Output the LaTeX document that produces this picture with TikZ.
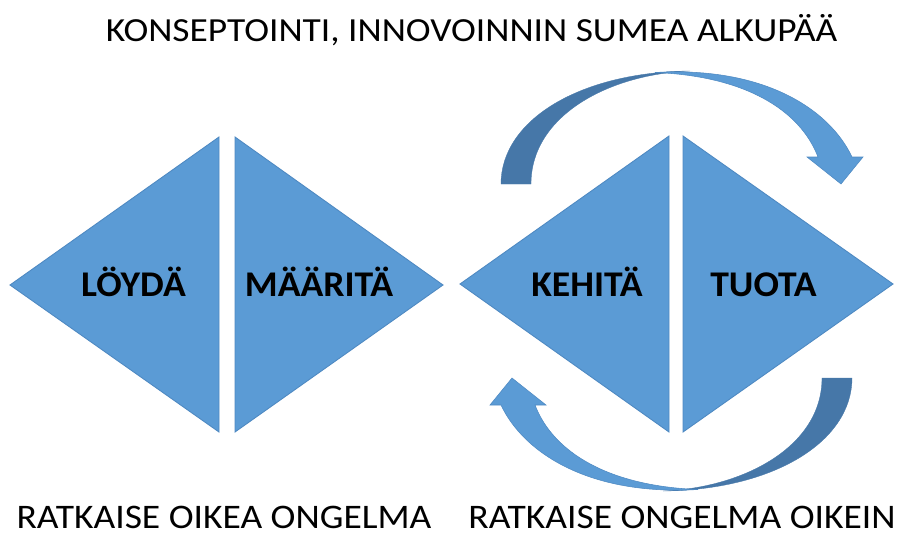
\documentclass[tikz,border=0pt]{standalone}
\usepackage{fontspec}
\setmainfont{Carlito}
\newfontfamily\headfont[FakeStretch=1.11]{Carlito}
\newfontfamily\captionfont[FakeStretch=1.09]{Carlito}
\newfontfamily\labelfont[FakeStretch=1.04]{Carlito}
\begin{document}
\begin{tikzpicture}[x=0.02cm,y=-0.02cm,
  face/.style={fill=faceblue,draw=edgeblue,line width=0.5pt,line join=miter},
  backface/.style={fill=backblue,draw=backblue,line width=0.2pt},
  arrowface/.style={fill=faceblue,draw=edgeblue,line width=0.3pt},
  label/.style={font=\labelfont\fontsize{20.6}{24}\selectfont\bfseries,anchor=base,inner sep=0pt},
  caption/.style={font=\captionfont\fontsize{19.6}{23}\selectfont,anchor=base,inner sep=0pt},
  heading/.style={font=\headfont\fontsize{19.2}{22}\selectfont,anchor=base,inner sep=0pt}]
\definecolor{faceblue}{HTML}{5B9BD5}
\definecolor{edgeblue}{HTML}{4E89C2}
\definecolor{backblue}{HTML}{4677A8}
\useasboundingbox (0,0) rectangle (900,534);

% left diamond: two triangles
\draw[face] (10,285) -- (219,137) -- (219,432) -- cycle;
\draw[face] (235,137) -- (443,285) -- (235,432) -- cycle;
% right diamond
\draw[face] (460,284) -- (669,136) -- (669,432) -- cycle;
\draw[face] (683,136) -- (893,284) -- (683,432) -- cycle;

% curved arrow over the right diamond, and its copy turned half round below it
\foreach \ang in {0,180}{
  \begin{scope}[rotate around={\ang:(676.5,281)}]
    \draw[backface] (501,184) .. controls (501,120) and (580,72) .. (690,71)
      .. controls (610,74) and (531,115) .. (531,184) -- cycle;
    \draw[arrowface] (655,72.5) .. controls (765,66) and (830,110) .. (852,157)
      -- (863,157) -- (841,184) -- (807,157) -- (818,157)
      .. controls (800,110) and (745,76) .. (655,72.5) -- cycle;
  \end{scope}
}

% texts
\node[heading] (title) at (471.5,41) {KONSEPTOINTI, INNOVOINNIN SUMEA ALKUPÄÄ};
\node[label] (loyda) at (133.5,296) {LÖYDÄ};
\node[label] (maarita) at (319,296) {MÄÄRITÄ};
\node[label] (kehita) at (587,296) {KEHITÄ};
\node[label] (tuota) at (763.5,296) {TUOTA};
\node[caption] (oikea) at (224,528) {RATKAISE OIKEA ONGELMA};
\node[caption] (oikein) at (682,528) {RATKAISE ONGELMA OIKEIN};
\end{tikzpicture}
\end{document}
